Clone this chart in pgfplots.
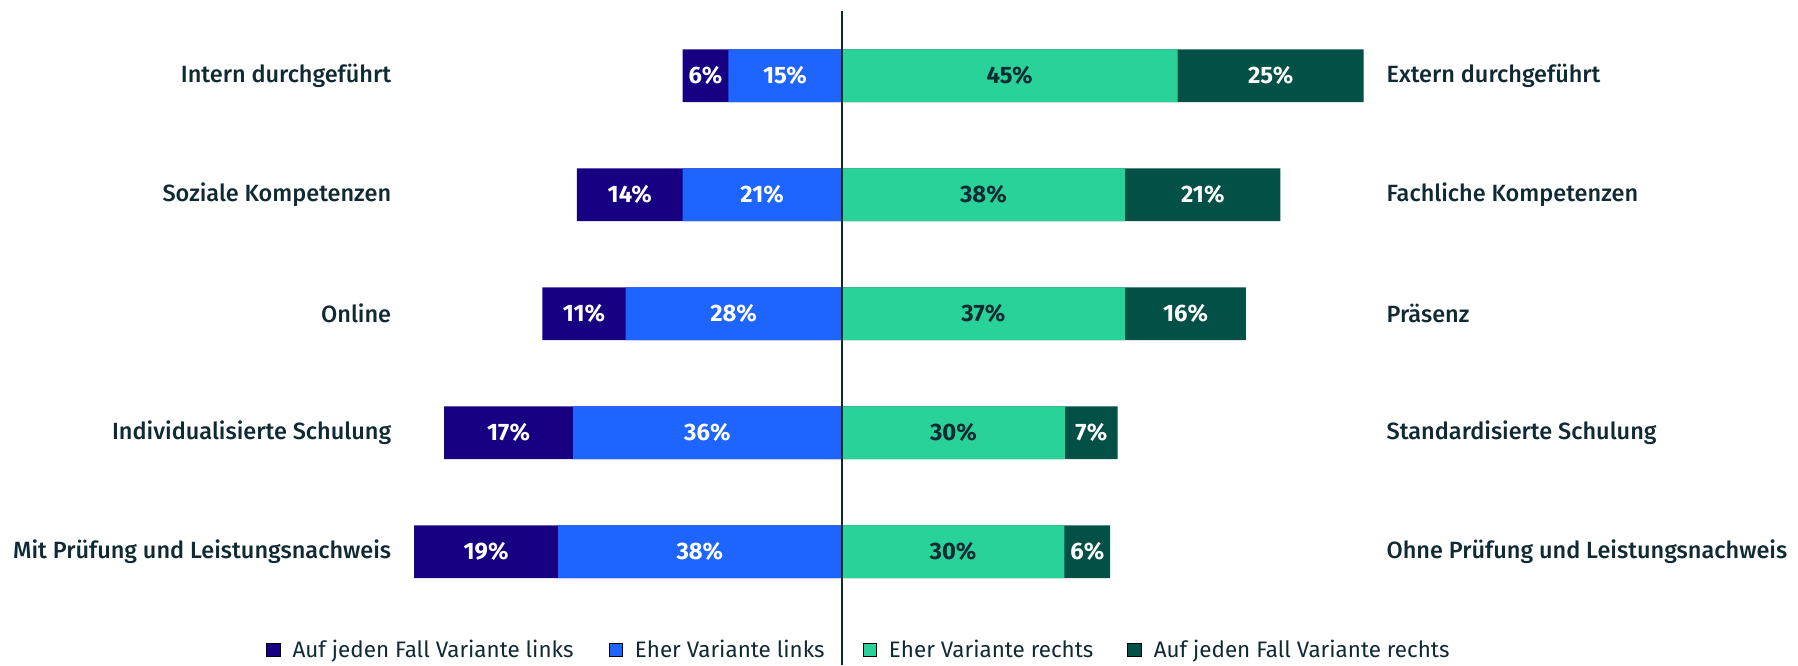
\documentclass[border=0pt]{standalone}
\usepackage{fontspec}
\setmainfont{Fira Sans}
\newfontfamily\medfont{Fira Sans Medium}
\usepackage{pgfplots}
\pgfplotsset{compat=1.18}
\definecolor{navyc}{RGB}{24,0,130}
\definecolor{bluec}{RGB}{30,100,255}
\definecolor{greenc}{RGB}{41,210,152}
\definecolor{dgreenc}{RGB}{2,80,70}
\definecolor{textc}{HTML}{102A33}

\begin{document}
\begin{tikzpicture}
\begin{axis}[
  scale only axis,
  width=495pt, height=326.7pt,
  xmin=-60, xmax=72,
  ymin=0.46, ymax=5.95,
  y dir=reverse,
  clip=false,
  axis line style={draw=none},
  tick style={draw=none},
  xtick=\empty,
  ytick={1,2,3,4,5},
  yticklabels={Intern durchgeführt, Soziale Kompetenzen, Online, Individualisierte Schulung, Mit Prüfung und Leistungsnachweis},
  yticklabel style={font=\medfont\fontsize{11.75}{14}\selectfont, text=textc, inner sep=0pt, anchor=east},
  bar width=26.35pt,
  legend columns=4,
  legend style={at={(-0.127,0.023)}, anchor=west, draw=none, fill=none,
    inner sep=0pt, font=\fontsize{11.2}{13}\selectfont, text=textc,
    /tikz/column 1/.style={column sep=4pt},
    /tikz/column 2/.style={column sep=15.5pt},
    /tikz/column 3/.style={column sep=4pt},
    /tikz/column 4/.style={column sep=17pt},
    /tikz/column 5/.style={column sep=4pt},
    /tikz/column 6/.style={column sep=15pt},
    /tikz/column 7/.style={column sep=4pt}},
  legend image code/.code={\fill[#1] (0pt,-3.4pt) rectangle (6.8pt,3.4pt);},
]
% left side: outer (navy) bar first, inner (blue) drawn over it
\addplot[xbar, bar shift=0pt, draw=none, fill=navyc, forget plot] coordinates {(-21.2,1)(-35.3,2)(-39.9,3)(-53.0,4)(-57.0,5)};
\addplot[xbar, bar shift=0pt, draw=none, fill=bluec, forget plot] coordinates {(-15.1,1)(-21.2,2)(-28.8,3)(-35.8,4)(-37.8,5)};
% right side
\addplot[xbar, bar shift=0pt, draw=none, fill=dgreenc, forget plot] coordinates {(69.6,1)(58.5,2)(53.9,3)(36.8,4)(35.8,5)};
\addplot[xbar, bar shift=0pt, draw=none, fill=greenc, forget plot] coordinates {(44.8,1)(37.8,2)(37.8,3)(29.8,4)(29.7,5)};

% value labels
\addplot[draw=none, mark=none, forget plot, nodes near coords, point meta=explicit symbolic,
  every node near coord/.style={anchor=center, inner sep=0pt, text=white, font=\bfseries\fontsize{11.9}{14}\selectfont}]
  coordinates {
  (-18.15,1)[6\%] (-7.55,1)[15\%] (57.2,1)[25\%]
  (-28.25,2)[14\%] (-10.6,2)[21\%] (48.15,2)[21\%]
  (-34.35,3)[11\%] (-14.4,3)[28\%] (45.85,3)[16\%]
  (-44.4,4)[17\%] (-17.9,4)[36\%] (33.3,4)[7\%]
  (-47.4,5)[19\%] (-18.9,5)[38\%] (32.75,5)[6\%]
  };
\addplot[draw=none, mark=none, forget plot, nodes near coords, point meta=explicit symbolic,
  every node near coord/.style={anchor=center, inner sep=0pt, text=textc, font=\bfseries\fontsize{11.9}{14}\selectfont}]
  coordinates {(22.4,1)[45\%] (18.9,2)[38\%] (18.9,3)[37\%] (14.9,4)[30\%] (14.85,5)[30\%]};

% right-hand category labels
\addplot[draw=none, mark=none, forget plot, nodes near coords, point meta=explicit symbolic,
  every node near coord/.style={anchor=west, inner sep=0pt, text=textc, font=\medfont\fontsize{11.75}{14}\selectfont}]
  coordinates {(72.6,1)[Extern durchgeführt] (72.6,2)[Fachliche Kompetenzen] (72.6,3)[Präsenz]
  (72.6,4)[Standardisierte Schulung] (72.6,5)[Ohne Prüfung und Leistungsnachweis]};

\addlegendimage{fill=navyc}
\addlegendentry{Auf jeden Fall Variante links}
\addlegendimage{fill=bluec}
\addlegendentry{Eher Variante links}
\addlegendimage{fill=greenc}
\addlegendentry{Eher Variante rechts}
\addlegendimage{fill=dgreenc}
\addlegendentry{Auf jeden Fall Variante rechts}

% centre line
\draw[textc, line width=1pt] (axis cs:0,0.46) -- (axis cs:0,5.95);
% page frame
\path (axis cs:-112.2,0.364) rectangle (axis cs:127.5,5.95);
\end{axis}
\end{tikzpicture}
\end{document}
